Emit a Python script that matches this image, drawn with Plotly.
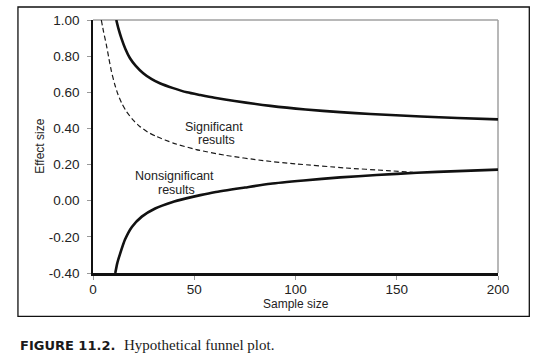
import plotly.graph_objects as go

# Values
upper_x = [11.5, 12.5, 14, 16, 18.2, 21, 24.8, 29, 33, 39.6, 46.4, 53, 60, 70, 87.6, 105, 122, 137, 162, 180, 200]
upper_y = [1.00, 0.955, 0.90, 0.84, 0.79, 0.748, 0.706, 0.673, 0.65, 0.623, 0.60, 0.585, 0.57, 0.552, 0.525, 0.505, 0.49, 0.48, 0.466, 0.458, 0.45]

lower_x = [11.0, 12, 13.4, 15.8, 19.2, 24.1, 30.7, 39, 46, 53, 60, 75, 87.6, 104, 122, 140, 160, 180, 200]
lower_y = [-0.40, -0.345, -0.293, -0.215, -0.145, -0.088, -0.043, -0.008, 0.013, 0.031, 0.047, 0.073, 0.094, 0.112, 0.129, 0.142, 0.155, 0.164, 0.172]

dashed_x = [4.1, 5.3, 6.6, 7.8, 9.1, 10.7, 12.4, 14.3, 16.5, 19.5, 23.1, 27, 31.3, 39.6, 51, 65, 84, 100, 125, 145, 158]
dashed_y = [1.00, 0.93, 0.863, 0.79, 0.716, 0.645, 0.586, 0.537, 0.494, 0.45, 0.411, 0.38, 0.356, 0.319, 0.283, 0.252, 0.222, 0.204, 0.181, 0.167, 0.157]

x_ticks = [0, 50, 100, 150, 200]
x_tick_labels = ["0", "50", "100", "150", "200"]
y_ticks = [-0.4, -0.2, 0.0, 0.2, 0.4, 0.6, 0.8, 1.0]
y_tick_labels = ["-0.40", "-0.20", "0.00", "0.20", "0.40", "0.60", "0.80", "1.00"]

x_title = "Sample size"
y_title = "Effect size"
caption_bold = "FIGURE 11.2."
caption_text = "Hypothetical funnel plot."

fig = go.Figure()
fig.add_trace(go.Scatter(x=upper_x, y=upper_y, mode="lines",
                         line=dict(color="#111111", width=2.6, shape="spline", smoothing=0.6)))
fig.add_trace(go.Scatter(x=lower_x, y=lower_y, mode="lines",
                         line=dict(color="#111111", width=2.6, shape="spline", smoothing=0.6)))
fig.add_trace(go.Scatter(x=dashed_x, y=dashed_y, mode="lines",
                         line=dict(color="#1a1a1a", width=1.2, dash="5px,3px", shape="spline", smoothing=0.6)))

tick_font = dict(family="Liberation Sans, Arial, sans-serif", size=13.5, color="#222222")

fig.update_layout(
    width=538, height=359,
    margin=dict(l=93, r=40.3, t=20, b=86.3),
    paper_bgcolor="white", plot_bgcolor="white",
    showlegend=False,
    xaxis=dict(range=[0, 200], tickvals=x_ticks, ticktext=x_tick_labels,
               showgrid=False, zeroline=False, ticks="outside", ticklen=4,
               tickcolor="#999999", tickwidth=1, tickfont=tick_font,
               showline=True, linecolor="#111111", linewidth=3, ticklabelstandoff=-2),
    yaxis=dict(range=[-0.4, 1.0], tickvals=y_ticks, ticktext=y_tick_labels,
               showgrid=False, zeroline=False, ticks="outside", ticklen=4,
               tickcolor="#999999", tickwidth=1, tickfont=tick_font,
               showline=True, linecolor="#111111", linewidth=1.6, ticklabelstandoff=5),
)

# plot-area border (top/right gray)
fig.add_shape(type="line", xref="paper", yref="paper", x0=0, x1=1, y0=1, y1=1,
              line=dict(color="#a0a0a0", width=1.5), layer="below")
fig.add_shape(type="line", xref="paper", yref="paper", x0=1, x1=1, y0=0, y1=1,
              line=dict(color="#a0a0a0", width=1.5), layer="below")
# outer frame
fig.add_shape(type="rect", xref="paper", yref="paper",
              x0=-0.1853, x1=1.0773, y0=-0.1713, y1=1.0514,
              line=dict(color="#111111", width=1.3))

lab_font = dict(family="Liberation Sans, Arial, sans-serif", size=12.5, color="#222222")
for txt, x, y in [("Significant", 59.8, 0.409), ("results", 61.0, 0.335),
                  ("Nonsignificant", 40.4, 0.136), ("results", 41.3, 0.062)]:
    fig.add_annotation(x=x, y=y, xref="x", yref="y", text=txt, showarrow=False,
                       font=lab_font, xanchor="center", yanchor="middle")

ax_font = dict(family="Liberation Sans, Arial, sans-serif", size=12, color="#222222")
fig.add_annotation(x=0.501, y=-0.124, xref="paper", yref="paper", text=x_title,
                   showarrow=False, font=ax_font, xanchor="center", yanchor="middle")
fig.add_annotation(x=-0.1327, y=0.5, xref="paper", yref="paper", text=y_title,
                   showarrow=False, font=ax_font, textangle=-90, xanchor="center", yanchor="middle")

fig.add_annotation(x=-0.1853, y=-0.286, xref="paper", yref="paper", text="<b>" + caption_bold + "</b>",
                   showarrow=False, xanchor="left", yanchor="middle",
                   font=dict(family="DejaVu Sans, sans-serif", size=13, color="#1a1a1a"))
fig.add_annotation(x=0.0709, y=-0.286, xref="paper", yref="paper", text=caption_text,
                   showarrow=False, xanchor="left", yanchor="middle",
                   font=dict(family="Liberation Serif, Times New Roman, serif", size=15, color="#1a1a1a"))

fig.write_html("out.html", config={"displayModeBar": False},
               post_script="document.body.style.margin='0';document.body.style.overflow='hidden';")
